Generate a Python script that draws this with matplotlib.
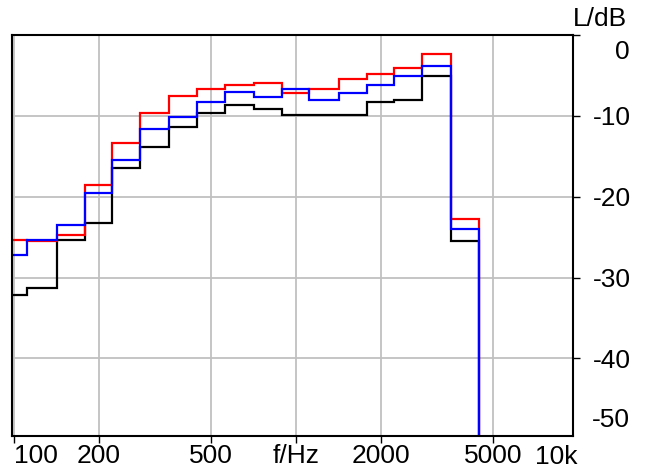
import numpy as np
import matplotlib
matplotlib.use("Agg")
import matplotlib.pyplot as plt
from matplotlib.transforms import blended_transform_factory

# third-octave band centres (Hz)
bands = [100, 125, 160, 200, 250, 315, 400, 500, 630, 800, 1000,
         1250, 1600, 2000, 2500, 3150, 4000, 5000]

# band levels in dB (5000 Hz band lies far below the chart)
level_black = [-32.2, -31.3, -25.3, -23.2, -16.4, -13.8, -11.4, -9.6, -8.6, -9.1,
               -9.9, -9.9, -9.9, -8.3, -8.0, -5.1, -25.5, -80.0]
level_red = [-25.3, -25.5, -24.8, -18.5, -13.3, -9.6, -7.5, -6.7, -6.2, -5.9,
             -7.2, -6.7, -5.4, -4.8, -4.1, -2.4, -22.7, -80.0]
level_blue = [-27.2, -25.3, -23.5, -19.5, -15.4, -11.6, -10.1, -8.3, -7.0, -7.7,
              -6.7, -8.0, -7.2, -6.2, -5.1, -3.8, -24.0, -80.0]

xtick_pos = [100, 200, 500, 1000, 2000, 5000]
xtick_lab = ["100", "200", "500", "f/Hz", "2000", "5000"]
ytick_pos = [0, -10, -20, -30, -40]
ytick_lab = ["", "-10", "-20", "-30", "-40"]

plt.rcParams["font.family"] = ["Liberation Sans", "DejaVu Sans"]
FS = 19

# band edges half a third-octave either side of the centres
c = np.array(bands, dtype=float)
edges = np.append(c * 10 ** -0.05, c[-1] * 10 ** 0.05)

fig = plt.figure(figsize=(6.51, 4.73), dpi=100)
ax = fig.add_axes([12 / 651, 37 / 473, 561 / 651, 401 / 473])

ax.stairs(level_black, edges, color="black", lw=1.6, baseline=None)
ax.stairs(level_red, edges, color="#ff0000", lw=1.6, baseline=None)
ax.stairs(level_blue, edges, color="#0000ff", lw=1.6, baseline=None)

ax.set_xscale("log")
ax.set_xlim(98.6, 9620)
ax.set_ylim(-49.6, 0)

ax.set_xticks(xtick_pos, xtick_lab, fontsize=FS)
ax.xaxis.set_minor_locator(matplotlib.ticker.NullLocator())
ax.yaxis.tick_right()
ax.set_yticks(ytick_pos, ytick_lab, fontsize=FS, ha="right")

ax.tick_params(axis="x", length=5, width=1, pad=1)
ax.tick_params(axis="y", length=5, width=1, pad=37)
ax.get_xticklabels()[0].set_ha("left")

ax.grid(True, color="#c0c0c0", lw=1.3)
ax.set_axisbelow(True)
for s in ax.spines.values():
    s.set_linewidth(1.5)

# end labels on the level axis, pushed inwards like the original
tr = blended_transform_factory(ax.transAxes, ax.transData)
ax.text(1.1016, -2.1, "0", transform=tr, ha="right", va="center", fontsize=FS)
ax.text(1.1016, -47.6, "-50", transform=tr, ha="right", va="center", fontsize=FS)
tr2 = blended_transform_factory(ax.transData, ax.transAxes)
ax.text(10000, -0.022, "10k", transform=tr2, ha="right", va="top", fontsize=FS)

fig.text(600 / 651, 1 - 19 / 473, "L/dB", ha="center", va="center", fontsize=FS)

fig.savefig("out.png", dpi=100)
